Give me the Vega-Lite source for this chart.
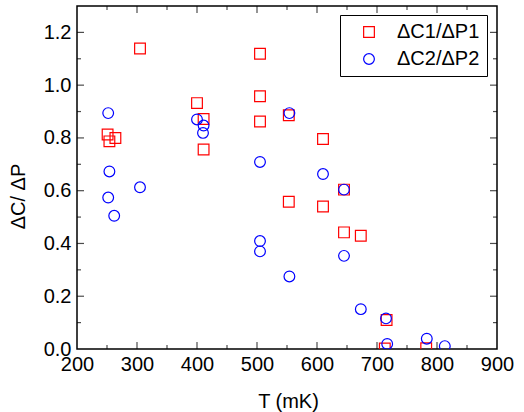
{
  "$schema": "https://vega.github.io/schema/vega-lite/v6.json",
  "width": 420,
  "height": 343,
  "autosize": {"type": "none"},
  "padding": {"left": 77, "top": 6, "right": 27, "bottom": 63},
  "config": {
    "font": "Liberation Sans",
    "view": {"stroke": "black", "strokeWidth": 1.5},
    "axis": {
      "ticks": false,
      "tickSize": 0,
      "domain": false,
      "grid": false,
      "labelColor": "black",
      "labelFontSize": 20,
      "titleColor": "black",
      "titleFontSize": 20,
      "titleFontWeight": "normal",
      "labelFlush": false,
      "labelOverlap": false
    },
    "tick": {"color": "black", "thickness": 1.2}
  },
  "datasets": {
    "points": [
      {"T": 251, "v": 0.813, "series": "ΔC1/ΔP1"},
      {"T": 254, "v": 0.787, "series": "ΔC1/ΔP1"},
      {"T": 264, "v": 0.800, "series": "ΔC1/ΔP1"},
      {"T": 305, "v": 1.139, "series": "ΔC1/ΔP1"},
      {"T": 400, "v": 0.932, "series": "ΔC1/ΔP1"},
      {"T": 411, "v": 0.872, "series": "ΔC1/ΔP1"},
      {"T": 411, "v": 0.756, "series": "ΔC1/ΔP1"},
      {"T": 505, "v": 1.119, "series": "ΔC1/ΔP1"},
      {"T": 505, "v": 0.958, "series": "ΔC1/ΔP1"},
      {"T": 505, "v": 0.862, "series": "ΔC1/ΔP1"},
      {"T": 553, "v": 0.886, "series": "ΔC1/ΔP1"},
      {"T": 553, "v": 0.558, "series": "ΔC1/ΔP1"},
      {"T": 610, "v": 0.796, "series": "ΔC1/ΔP1"},
      {"T": 610, "v": 0.540, "series": "ΔC1/ΔP1"},
      {"T": 645, "v": 0.604, "series": "ΔC1/ΔP1"},
      {"T": 645, "v": 0.442, "series": "ΔC1/ΔP1"},
      {"T": 673, "v": 0.429, "series": "ΔC1/ΔP1"},
      {"T": 716, "v": 0.110, "series": "ΔC1/ΔP1"},
      {"T": 713, "v": 0.002, "series": "ΔC1/ΔP1"},
      {"T": 782, "v": 0.003, "series": "ΔC1/ΔP1"},
      {"T": 252, "v": 0.894, "series": "ΔC2/ΔP2"},
      {"T": 254, "v": 0.673, "series": "ΔC2/ΔP2"},
      {"T": 252, "v": 0.574, "series": "ΔC2/ΔP2"},
      {"T": 262, "v": 0.505, "series": "ΔC2/ΔP2"},
      {"T": 305, "v": 0.613, "series": "ΔC2/ΔP2"},
      {"T": 400, "v": 0.870, "series": "ΔC2/ΔP2"},
      {"T": 411, "v": 0.847, "series": "ΔC2/ΔP2"},
      {"T": 410, "v": 0.819, "series": "ΔC2/ΔP2"},
      {"T": 505, "v": 0.709, "series": "ΔC2/ΔP2"},
      {"T": 505, "v": 0.409, "series": "ΔC2/ΔP2"},
      {"T": 505, "v": 0.370, "series": "ΔC2/ΔP2"},
      {"T": 554, "v": 0.894, "series": "ΔC2/ΔP2"},
      {"T": 554, "v": 0.275, "series": "ΔC2/ΔP2"},
      {"T": 610, "v": 0.663, "series": "ΔC2/ΔP2"},
      {"T": 645, "v": 0.604, "series": "ΔC2/ΔP2"},
      {"T": 645, "v": 0.353, "series": "ΔC2/ΔP2"},
      {"T": 673, "v": 0.151, "series": "ΔC2/ΔP2"},
      {"T": 715, "v": 0.116, "series": "ΔC2/ΔP2"},
      {"T": 717, "v": 0.019, "series": "ΔC2/ΔP2"},
      {"T": 783, "v": 0.039, "series": "ΔC2/ΔP2"},
      {"T": 813, "v": 0.011, "series": "ΔC2/ΔP2"}
    ],
    "xmajor": [{"t": 300}, {"t": 400}, {"t": 500}, {"t": 600}, {"t": 700}, {"t": 800}],
    "xminor": [{"t": 250}, {"t": 350}, {"t": 450}, {"t": 550}, {"t": 650}, {"t": 750}, {"t": 850}],
    "ymajor": [{"t": 0.2}, {"t": 0.4}, {"t": 0.6}, {"t": 0.8}, {"t": 1.0}, {"t": 1.2}],
    "yminor": [{"t": 0.1}, {"t": 0.3}, {"t": 0.5}, {"t": 0.7}, {"t": 0.9}, {"t": 1.1}]
  },
  "layer": [
    {
      "data": {"name": "points"},
      "mark": {"type": "point", "filled": false, "clip": true, "size": 115, "strokeWidth": 1.2, "opacity": 1},
      "encoding": {
        "x": {
          "field": "T", "type": "quantitative",
          "title": "T (mK)",
          "scale": {"domain": [200, 900], "nice": false, "zero": false},
          "axis": {
            "orient": "bottom",
            "title": "T (mK)",
            "values": [200, 300, 400, 500, 600, 700, 800, 900],
            "format": "d",
            "labelPadding": 5,
            "titleX": 211,
            "titleY": 58,
            "titleBaseline": "alphabetic"
          }
        },
        "y": {
          "field": "v", "type": "quantitative",
          "title": "ΔC/ ΔP",
          "scale": {"domain": [0, 1.3], "nice": false},
          "axis": {
            "orient": "left",
            "title": "ΔC/ ΔP",
            "values": [0, 0.2, 0.4, 0.6, 0.8, 1.0, 1.2],
            "format": ".1f",
            "labelPadding": 6,
            "titleX": -59,
            "titleY": 190,
            "titleBaseline": "middle"
          }
        },
        "color": {
          "field": "series", "type": "nominal",
          "scale": {"domain": ["ΔC1/ΔP1", "ΔC2/ΔP2"], "range": ["#ff0000", "#0000ff"]},
          "legend": {
            "orient": "none",
            "legendX": 263,
            "legendY": 9,
            "title": null,
            "strokeColor": "black",
            "fillColor": "white",
            "padding": 7,
            "symbolOffset": 12,
            "labelOffset": 18,
            "rowPadding": 7,
            "labelFontSize": 20,
            "labelColor": "black",
            "symbolSize": 115,
            "symbolStrokeWidth": 1.2
          }
        },
        "shape": {
          "field": "series", "type": "nominal",
          "scale": {"domain": ["ΔC1/ΔP1", "ΔC2/ΔP2"], "range": ["square", "circle"]}
        }
      }
    },
    {
      "data": {"name": "xmajor"},
      "mark": {"type": "tick", "orient": "vertical", "size": 7, "yOffset": -3.5},
      "encoding": {
        "x": {"field": "t", "type": "quantitative", "title": "T (mK)"},
        "y": {"datum": 0, "type": "quantitative", "title": "ΔC/ ΔP"}
      }
    },
    {
      "data": {"name": "xmajor"},
      "mark": {"type": "tick", "orient": "vertical", "size": 7, "yOffset": 3.5},
      "encoding": {
        "x": {"field": "t", "type": "quantitative", "title": "T (mK)"},
        "y": {"datum": 1.3, "type": "quantitative", "title": "ΔC/ ΔP"}
      }
    },
    {
      "data": {"name": "xminor"},
      "mark": {"type": "tick", "orient": "vertical", "size": 4, "yOffset": -2},
      "encoding": {
        "x": {"field": "t", "type": "quantitative", "title": "T (mK)"},
        "y": {"datum": 0, "type": "quantitative", "title": "ΔC/ ΔP"}
      }
    },
    {
      "data": {"name": "xminor"},
      "mark": {"type": "tick", "orient": "vertical", "size": 4, "yOffset": 2},
      "encoding": {
        "x": {"field": "t", "type": "quantitative", "title": "T (mK)"},
        "y": {"datum": 1.3, "type": "quantitative", "title": "ΔC/ ΔP"}
      }
    },
    {
      "data": {"name": "ymajor"},
      "mark": {"type": "tick", "orient": "horizontal", "size": 7, "xOffset": 3.5},
      "encoding": {
        "y": {"field": "t", "type": "quantitative", "title": "ΔC/ ΔP"},
        "x": {"datum": 200, "type": "quantitative", "title": "T (mK)"}
      }
    },
    {
      "data": {"name": "ymajor"},
      "mark": {"type": "tick", "orient": "horizontal", "size": 7, "xOffset": -3.5},
      "encoding": {
        "y": {"field": "t", "type": "quantitative", "title": "ΔC/ ΔP"},
        "x": {"datum": 900, "type": "quantitative", "title": "T (mK)"}
      }
    },
    {
      "data": {"name": "yminor"},
      "mark": {"type": "tick", "orient": "horizontal", "size": 4, "xOffset": 2},
      "encoding": {
        "y": {"field": "t", "type": "quantitative", "title": "ΔC/ ΔP"},
        "x": {"datum": 200, "type": "quantitative", "title": "T (mK)"}
      }
    },
    {
      "data": {"name": "yminor"},
      "mark": {"type": "tick", "orient": "horizontal", "size": 4, "xOffset": -2},
      "encoding": {
        "y": {"field": "t", "type": "quantitative", "title": "ΔC/ ΔP"},
        "x": {"datum": 900, "type": "quantitative", "title": "T (mK)"}
      }
    }
  ]
}
